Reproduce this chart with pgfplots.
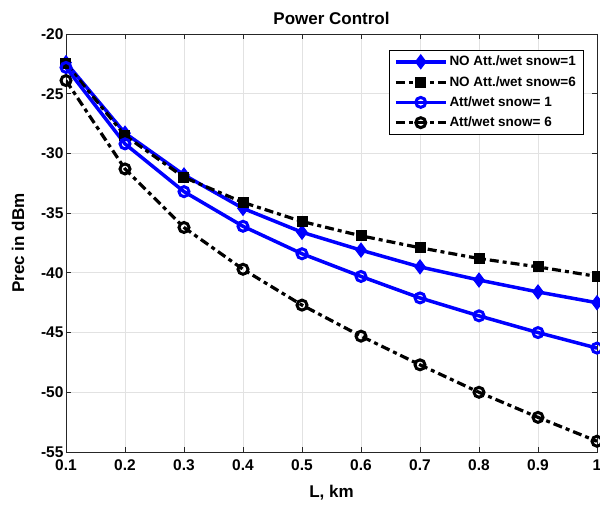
\documentclass[border=0pt]{standalone}
\usepackage{pgfplots}
\pgfplotsset{compat=1.18}
\usepackage{fontspec}
\setmainfont{Liberation Sans}
\definecolor{gridgray}{RGB}{226,226,226}
\definecolor{axgray}{RGB}{38,38,38}
\begin{document}
\begin{tikzpicture}[x=1pt,y=1pt]
\useasboundingbox (-66,-54) rectangle (534,452);
\begin{axis}[
  at={(0,0)}, anchor=south west,
  scale only axis, width=531pt, height=418pt,
  xmin=0.1, xmax=1, ymin=-55, ymax=-20,
  xtick={0.1,0.2,0.3,0.4,0.5,0.6,0.7,0.8,0.9,1},
  xticklabels={0.1,0.2,0.3,0.4,0.5,0.6,0.7,0.8,0.9,1},
  ytick={-55,-50,-45,-40,-35,-30,-25,-20},
  yticklabels={-55,-50,-45,-40,-35,-30,-25,-20},
  tick align=inside, major tick length=5pt,
  xtick pos=both, ytick pos=both,
  grid=major, grid style={gridgray, line width=0.8pt},
  axis line style={axgray, line width=0.8pt},
  tick style={axgray, line width=0.8pt},
  ticklabel style={font=\bfseries\fontsize{15.5}{17}\selectfont, text=black},
  xticklabel style={yshift=-4pt},
  yticklabel style={xshift=1pt},
  /pgf/number format/assume math mode=true,
  xlabel={\bfseries L, km}, ylabel={\bfseries Prec in dBm},
  label style={font=\bfseries\fontsize{17}{19}\selectfont},
  xlabel shift=8pt,
  ylabel shift=10pt,
  title={\bfseries Power Control},
  title style={font=\bfseries\fontsize{17}{19}\selectfont, yshift=0pt},
  legend style={at={(0.974,0.962)}, anchor=north east, draw=black, line width=0.6pt,
    font=\bfseries\fontsize{13.5}{15}\selectfont, row sep=5pt, inner xsep=5pt, inner ysep=4pt},
  legend cell align=left,
  legend image code/.code={\draw[mark repeat=2,mark phase=2] plot coordinates {(0pt,0pt)(25pt,0pt)(50pt,0pt)};},
]
\addplot[blue, line width=3.5pt, mark=diamond*, mark size=7pt, mark options={solid, blue, line width=1pt}]
 coordinates {(0.1,-22.4)(0.2,-28.3)(0.3,-31.8)(0.4,-34.6)(0.5,-36.6)(0.6,-38.1)(0.7,-39.5)(0.8,-40.6)(0.9,-41.6)(1,-42.5)};
\addlegendentry{NO Att./wet snow=1}
\addplot[black, line width=3.2pt, dash pattern=on 9pt off 4pt on 4pt off 4pt, mark=square*, mark size=5pt, mark options={solid, black, line width=1pt}]
 coordinates {(0.1,-22.5)(0.2,-28.5)(0.3,-32.0)(0.4,-34.1)(0.5,-35.7)(0.6,-36.9)(0.7,-37.9)(0.8,-38.8)(0.9,-39.5)(1,-40.3)};
\addlegendentry{NO Att./wet snow=6}
\addplot[blue, line width=3.5pt, mark=o, mark size=5pt, mark options={solid, blue, line width=3pt}]
 coordinates {(0.1,-22.8)(0.2,-29.2)(0.3,-33.2)(0.4,-36.1)(0.5,-38.4)(0.6,-40.3)(0.7,-42.1)(0.8,-43.6)(0.9,-45.0)(1,-46.3)};
\addlegendentry{Att/wet snow= 1}
\addplot[black, line width=3.2pt, dash pattern=on 9pt off 4pt on 4pt off 4pt, mark=o, mark size=5pt, mark options={solid, black, line width=3pt}]
 coordinates {(0.1,-23.9)(0.2,-31.3)(0.3,-36.2)(0.4,-39.7)(0.5,-42.7)(0.6,-45.3)(0.7,-47.7)(0.8,-50.0)(0.9,-52.1)(1,-54.1)};
\addlegendentry{Att/wet snow= 6}
\end{axis}
\end{tikzpicture}
\end{document}
